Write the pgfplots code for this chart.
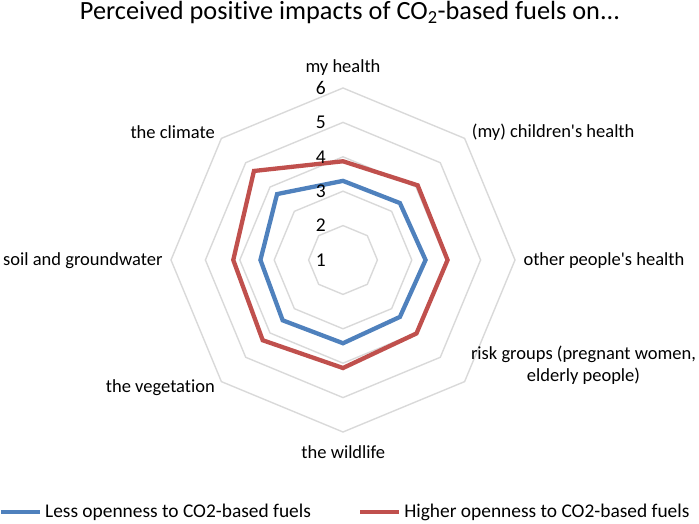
\documentclass[border=0pt]{standalone}
\usepackage{pgfplots}
\usepackage{pgfplotstable}
\pgfplotsset{compat=1.18}
\usepackage{fontspec}
\setmainfont{Carlito}[Ligatures={TeXOff,NoCommon}]
\definecolor{serblue}{HTML}{4F81BD}
\definecolor{serred}{HTML}{C0504D}
\definecolor{gridgray}{HTML}{D9D9D9}

% angle (deg), value on the 1..6 scale; first two rows repeated to close the polygon
\pgfplotstableread{
a     less  higher
90    3.30  3.87
45    3.34  4.07
0     3.40  4.04
-45   3.34  4.02
-90   3.42  4.14
-135  3.48  4.30
180   3.40  4.19
135   3.71  4.66
90    3.30  3.87
45    3.34  4.07
}\radar

\begin{document}
\begin{tikzpicture}
\useasboundingbox (0pt,0pt) rectangle (699pt,524pt);
\begin{axis}[
  at={(343pt,264pt)}, anchor=center,
  x=34.4pt, y=34.4pt,
  xmin=-5.5, xmax=5.5, ymin=-5.5, ymax=5.5,
  hide axis, clip=false,
  legend columns=2,
  legend style={at={(axis description cs:0.503,-0.166)}, anchor=center,
    draw=none, fill=none, font=\fontsize{19.4}{22}\selectfont,
    nodes={inner sep=0pt}, column sep=3pt,
    /tikz/every even column/.append style={column sep=47pt}},
  legend image code/.code={\draw[#1] (0pt,0pt) -- (39pt,0pt);},
]
\pgfplotsinvokeforeach{1,2,3,4,5}{
  \addplot[gridgray, line width=1.4pt, line join=miter, forget plot]
    table[x expr={#1*cos(\thisrow{a})}, y expr={#1*sin(\thisrow{a})}] {\radar};
}
\addplot[serblue, line width=4.3pt, line join=miter]
  table[x expr={(\thisrow{less}-1)*cos(\thisrow{a})}, y expr={(\thisrow{less}-1)*sin(\thisrow{a})}] {\radar};
\addlegendentry{Less openness to CO2-based fuels}
\addplot[serred, line width=4.3pt, line join=miter]
  table[x expr={(\thisrow{higher}-1)*cos(\thisrow{a})}, y expr={(\thisrow{higher}-1)*sin(\thisrow{a})}] {\radar};
\addlegendentry{Higher openness to CO2-based fuels}
\end{axis}

% title
\node[anchor=base, inner sep=0pt, font=\fontsize{26.3}{30}\selectfont] at (350pt,504pt)
  {Perceived positive impacts of CO\textsubscript{2}-based fuels on...};

% category labels
\begin{scope}[every node/.style={inner sep=0pt, font=\fontsize{18.5}{22.3}\selectfont}]
\node[anchor=base] at (343pt,451.3pt) {my health};
\node[anchor=base west] at (471.7pt,386.7pt) {(my) children's health};
\node[anchor=base west] at (523.3pt,258.3pt) {other people's health};
\node[anchor=base, align=center] at (583.5pt,142.3pt) {risk groups (pregnant women,\\elderly people)};
\node[anchor=base] at (343.3pt,65.7pt) {the wildlife};
\node[anchor=base east] at (215pt,131.3pt) {the vegetation};
\node[anchor=base east] at (162.7pt,258pt) {soil and groundwater};
\node[anchor=base east] at (215pt,385.7pt) {the climate};
\end{scope}

% radial scale labels
\begin{scope}[every node/.style={inner sep=0pt, anchor=east, font=\fontsize{19.5}{21}\selectfont}]
\node at (326pt,264pt) {1};
\node at (326pt,298.4pt) {2};
\node at (326pt,332.8pt) {3};
\node at (326pt,367.2pt) {4};
\node at (326pt,401.6pt) {5};
\node at (326pt,436pt) {6};
\end{scope}
\end{tikzpicture}
\end{document}
